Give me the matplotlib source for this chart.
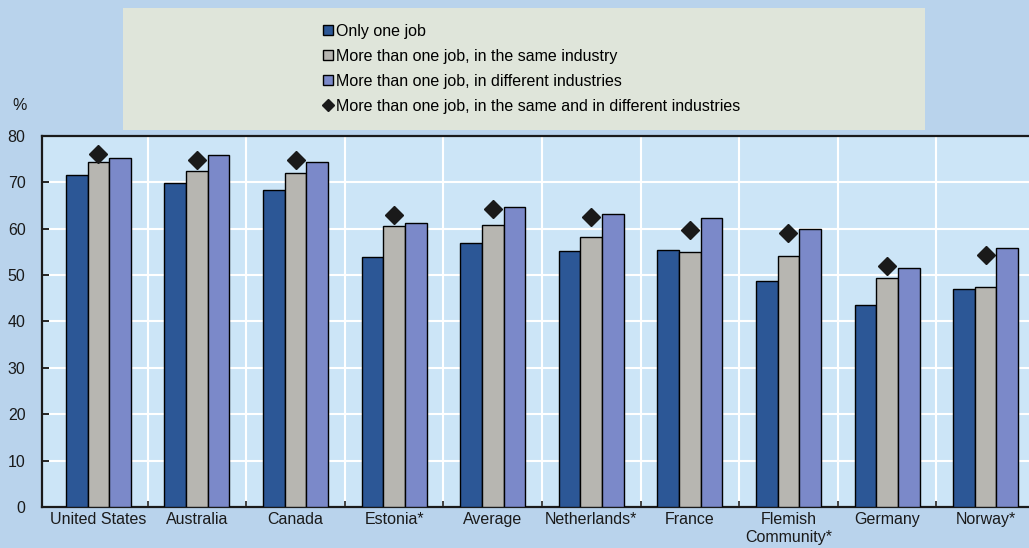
import matplotlib
matplotlib.use("Agg")
import matplotlib.pyplot as plt
import numpy as np
from matplotlib.lines import Line2D
from matplotlib.patches import Rectangle

plt.rcParams['font.family'] = ['Liberation Sans Narrow', 'Liberation Sans', 'DejaVu Sans']

# data (deskewed)
countries = ['United States', 'Australia', 'Canada', 'Estonia*', 'Average',
             'Netherlands*', 'France', 'Flemish\nCommunity*', 'Germany', 'Norway*']
only_one   = [71.5, 69.8, 68.3, 53.8, 56.9, 55.1, 55.5, 48.7, 43.5, 46.9]
same_ind   = [74.4, 72.4, 72.1, 60.5, 60.8, 58.3, 55.0, 54.1, 49.4, 47.5]
diff_ind   = [75.2, 75.8, 74.3, 61.3, 64.7, 63.1, 62.2, 59.9, 51.5, 55.9]
both_ind   = [76.1, 74.8, 74.9, 63.0, 64.3, 62.5, 59.8, 59.1, 51.9, 54.4]

labels = ['Only one job',
          'More than one job, in the same industry',
          'More than one job, in different industries',
          'More than one job, in the same and in different industries']

c_one  = '#2c5796'
c_same = '#b7b6b1'
c_diff = '#7b89c9'
bg_out = '#b9d3ec'
bg_in  = '#cce5f7'
bg_leg = '#dfe5da'

fig = plt.figure(figsize=(10.29, 5.48), dpi=100, facecolor=bg_out)
ax = fig.add_axes([0.041, 0.075, 0.959, 0.677])
ax.set_facecolor(bg_in)

x = np.arange(len(countries))
w = 0.22
ax.bar(x - w, only_one, w, color=c_one, edgecolor='black', linewidth=1, zorder=3)
ax.bar(x, same_ind, w, color=c_same, edgecolor='black', linewidth=1, zorder=3)
ax.bar(x + w, diff_ind, w, color=c_diff, edgecolor='black', linewidth=1, zorder=3)
ax.plot(x, both_ind, 'D', color='#1a1a1a', markersize=9, zorder=4)

ax.set_xlim(-0.57, 9.44)
ax.set_ylim(0, 80)
ax.set_yticks(range(0, 81, 10))
ax.set_xticks(x)
ax.set_xticklabels(countries, fontsize=11.5, color='#1a1a1a')
ax.set_xticks(np.arange(0.5, 9.5, 1), minor=True)
ax.tick_params(axis='x', which='major', length=0, pad=4)
ax.tick_params(axis='x', which='minor', direction='in', length=4, width=1.2, color='#222222')
ax.tick_params(axis='y', direction='in', length=5, width=1.2, labelsize=11.5,
               labelcolor='#1a1a1a', pad=12)

ax.grid(axis='y', color='white', linewidth=1.5, zorder=0)
ax.grid(axis='x', which='minor', color='white', linewidth=1.5, zorder=0)
for s in ['left', 'bottom', 'top']:
    ax.spines[s].set_linewidth(1.6)
    ax.spines[s].set_color('#1a1a1a')
ax.spines['right'].set_visible(False)

fig.text(0.012, 0.80, '%', fontsize=11.5, color='#1a1a1a')

# legend box
fig.patches.append(Rectangle((123 / 1029, 1 - 130 / 548), (925 - 123) / 1029, (130 - 8) / 548,
                             transform=fig.transFigure, facecolor=bg_leg, edgecolor='none',
                             zorder=0))
handles = [Line2D([], [], marker='s', linestyle='', markerfacecolor=c_one,
                  markeredgecolor='black', markersize=7),
           Line2D([], [], marker='s', linestyle='', markerfacecolor=c_same,
                  markeredgecolor='black', markersize=7),
           Line2D([], [], marker='s', linestyle='', markerfacecolor=c_diff,
                  markeredgecolor='black', markersize=7),
           Line2D([], [], marker='D', linestyle='', color='#1a1a1a', markersize=6)]
fig.legend(handles, labels, loc='upper left', bbox_to_anchor=(322 / 1029, 1 - 24 / 548),
           frameon=False, fontsize=11.5, handlelength=0.7, handletextpad=0.2,
           labelspacing=0.62, borderpad=0, borderaxespad=0)

fig.savefig('out.png', dpi=100, facecolor=bg_out)
